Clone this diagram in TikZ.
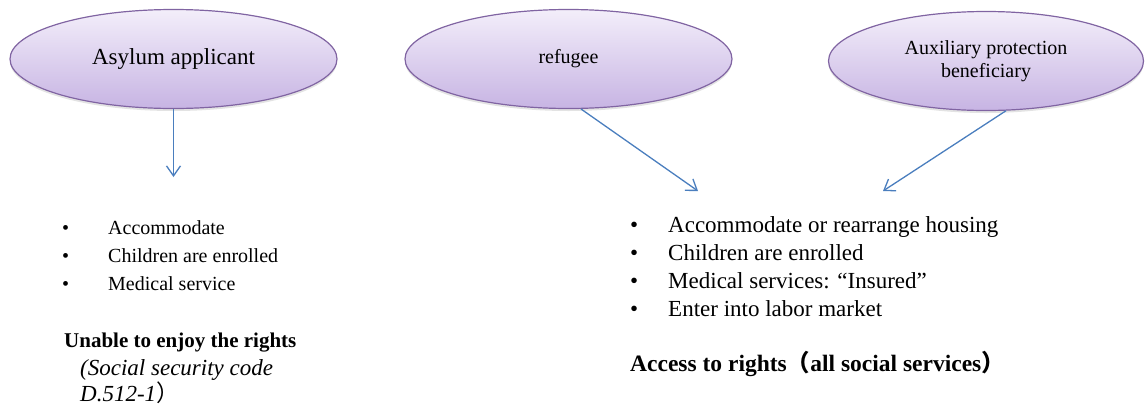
\documentclass[tikz,border=0pt]{standalone}
\usepackage{fontspec}
\setmainfont{Liberation Serif}
\newfontfamily\cjk{Noto Sans CJK SC}
\usetikzlibrary{shapes.geometric,arrows.meta,shadows}
\definecolor{ellborder}{RGB}{128,100,162}
\definecolor{elltop}{RGB}{243,238,250}
\definecolor{ellbot}{RGB}{199,180,227}
\definecolor{arrowblue}{RGB}{74,126,190}
\begin{document}
\begin{tikzpicture}[x=1pt,y=-1pt,
  role/.style={ellipse, draw=ellborder, line width=1.2pt, top color=elltop, bottom color=ellbot,
    inner sep=0pt, align=center,
    drop shadow={shadow xshift=0pt, shadow yshift=-2.5pt, opacity=0.18, fill=black!60}},
  link/.style={draw=arrowblue, line width=1.3pt, -{Straight Barb[length=10pt,width=14pt,line width=1.3pt]}},
  txt/.style={anchor=base west, inner sep=0pt},
  lsz/.style={font=\fontsize{20}{24}\selectfont},
  rsz/.style={font=\fontsize{23}{27}\selectfont}]
\useasboundingbox (0,0) rectangle (1145,405);

\node[role, minimum width=327pt, minimum height=99pt, font=\fontsize{23}{27}\selectfont] (asy) at (173.5,59) {Asylum applicant};
\node[role, minimum width=327pt, minimum height=99pt, font=\fontsize{20}{23}\selectfont] (ref) at (568.5,59) {refugee};
\node[role, minimum width=315pt, minimum height=99pt, font=\fontsize{20}{23}\selectfont] (aux) at (986,61) {Auxiliary protection\\beneficiary};

\coordinate (a1) at (173.5,177);
\coordinate (a2) at (698,191);
\coordinate (a3) at (883,191);
\draw[link] (asy.south) -- (a1);
\draw[link] (ref.-76) -- (a2);
\draw[link] (aux.-68) -- (a3);

% left list
\node[txt, lsz] (lb1) at (62,234) {•};
\node[txt, lsz] (lt1) at (108,234) {Accommodate};
\node[txt, lsz] (lb2) at (62,262) {•};
\node[txt, lsz] (lt2) at (108,262) {Children are enrolled};
\node[txt, lsz] (lb3) at (62,290) {•};
\node[txt, lsz] (lt3) at (108,290) {Medical service};
\node[txt, font=\fontsize{21}{25}\selectfont\bfseries] (lh) at (64,347) {Unable to enjoy the rights};
\node[txt, font=\fontsize{23}{27}\selectfont\itshape] (ls1) at (80,375) {(Social security code};
\node[txt, font=\fontsize{23}{27}\selectfont] (ls2) at (80,401) {\itshape D.512-1\/{\upshape\cjk ）}};

% right list
\node[txt, rsz] (rb1) at (630,232) {•};
\node[txt, rsz] (rt1) at (668,232) {Accommodate or rearrange housing};
\node[txt, rsz] (rb2) at (630,260) {•};
\node[txt, rsz] (rt2) at (668,260) {Children are enrolled};
\node[txt, rsz] (rb3) at (630,288) {•};
\node[txt, rsz] (rt3) at (668,288) {Medical services: “Insured”};
\node[txt, rsz] (rb4) at (630,316) {•};
\node[txt, rsz] (rt4) at (668,316) {Enter into labor market};
\node[txt, font=\fontsize{23.5}{28}\selectfont\bfseries] (rh) at (630,371) {Access to rights{\cjk （}all social services{\cjk ）}};
\end{tikzpicture}
\end{document}
